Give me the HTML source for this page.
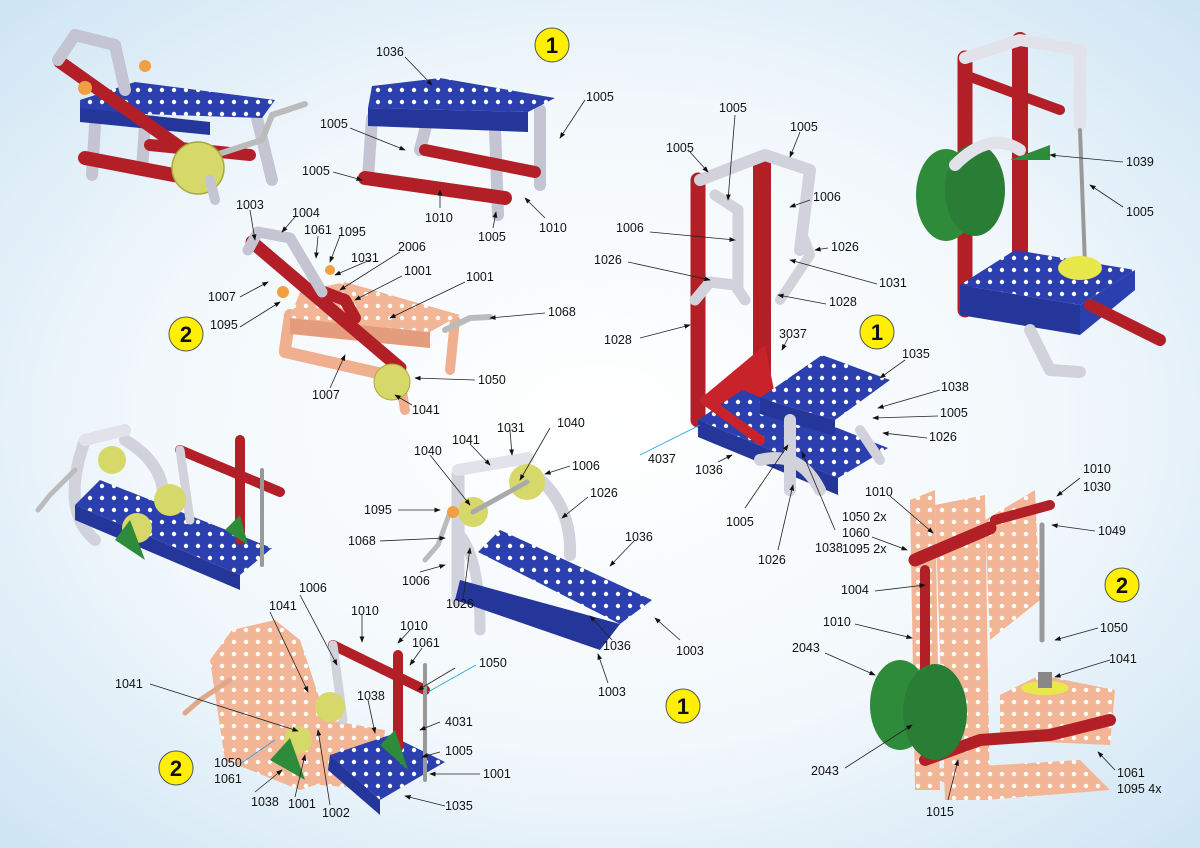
<!DOCTYPE html>
<html><head><meta charset="utf-8"><style>
html,body{margin:0;padding:0;background:#fff}
svg{display:block}
text{font-family:"Liberation Sans",sans-serif;font-size:12.5px;fill:#111}
</style></head><body>
<svg width="1200" height="848" viewBox="0 0 1200 848" xmlns="http://www.w3.org/2000/svg">
<defs>
<radialGradient id="bg" cx="0.5" cy="0.5" r="0.7">
<stop offset="0" stop-color="#ffffff"/><stop offset="0.55" stop-color="#f2f8fc"/><stop offset="1" stop-color="#cfe5f4"/>
</radialGradient>
<pattern id="hb" width="12" height="12" patternUnits="userSpaceOnUse"><rect width="12" height="12" fill="#2b3fae"/><circle cx="6" cy="6" r="2.2" fill="#fff"/></pattern>
<pattern id="hp" width="12" height="12" patternUnits="userSpaceOnUse"><rect width="12" height="12" fill="#f2b596"/><circle cx="6" cy="6" r="2.2" fill="#fff"/></pattern>
<marker id="a" markerWidth="8" markerHeight="6" refX="7" refY="3" orient="auto"><path d="M0,0 L8,3 L0,6 z" fill="#111"/></marker>
</defs>
<rect width="1200" height="848" fill="url(#bg)"/>

<g stroke-linecap="round" stroke-linejoin="round" fill="none">
<!-- Model A -->
<polyline points="92,175 95,125" stroke="#c4c4d2" stroke-width="12"/>
<polyline points="142,170 145,125" stroke="#c4c4d2" stroke-width="12"/>
<polyline points="255,110 272,180" stroke="#c4c4d2" stroke-width="12"/>
<polygon points="80,100 135,82 275,100 262,118 80,112" fill="url(#hb)"/>
<polygon points="80,108 210,122 210,135 80,122" fill="#24369a"/>
<polyline points="85,158 210,182" stroke="#b31f26" stroke-width="14"/>
<polyline points="150,145 250,155" stroke="#b31f26" stroke-width="12"/>
<polyline points="60,62 198,160" stroke="#b31f26" stroke-width="13"/>
<polyline points="58,60 75,35 115,45 125,90" stroke="#c4c4d2" stroke-width="12"/>
<polyline points="200,160 262,140 272,115 305,104" stroke="#bbbbbb" stroke-width="6"/>
<circle cx="198" cy="168" r="26" fill="#d6d86a" stroke="#a8a93e" stroke-width="1.5"/>
<circle cx="85" cy="88" r="7" fill="#f0a040"/><circle cx="145" cy="66" r="6" fill="#f0a040"/>
<polyline points="210,180 215,200" stroke="#c4c4d2" stroke-width="10"/>

<!-- Model B -->
<polyline points="368,178 372,118" stroke="#c4c4d2" stroke-width="12"/>
<polyline points="420,150 428,118" stroke="#c4c4d2" stroke-width="12"/>
<polyline points="540,110 540,185" stroke="#c4c4d2" stroke-width="12"/>
<polyline points="495,128 498,215" stroke="#c4c4d2" stroke-width="12"/>
<polygon points="372,86 440,78 555,98 528,112 368,108" fill="url(#hb)"/>
<polygon points="368,108 528,112 528,132 368,126" fill="#24369a"/>
<polyline points="365,178 505,198" stroke="#b31f26" stroke-width="14"/>
<polyline points="425,150 535,172" stroke="#b31f26" stroke-width="12"/>

<!-- Model C -->
<polyline points="285,350 290,315" stroke="#f0b090" stroke-width="12"/>
<polyline points="455,320 450,370" stroke="#f0b090" stroke-width="10"/>
<polygon points="300,292 345,282 460,315 430,332 290,318" fill="url(#hp)"/>
<polygon points="290,318 430,332 430,348 290,334" fill="#e39d7c"/>
<polyline points="285,352 400,378" stroke="#f0b090" stroke-width="12"/>
<polyline points="400,380 405,410" stroke="#f0b090" stroke-width="10"/>
<polyline points="252,242 400,368" stroke="#b31f26" stroke-width="13"/>
<polyline points="318,290 345,300 355,318" stroke="#b31f26" stroke-width="12"/>
<polyline points="248,250 258,232 290,238 322,292" stroke="#c4c4d2" stroke-width="11"/>
<polyline points="445,330 470,318 490,317" stroke="#bbbbbb" stroke-width="6"/>
<circle cx="392" cy="382" r="18" fill="#d6d86a" stroke="#a8a93e"/>
<circle cx="283" cy="292" r="6" fill="#f0a040"/><circle cx="330" cy="270" r="5" fill="#f0a040"/>

<!-- Model D -->
<polyline points="698,180 698,420" stroke="#b31f26" stroke-width="15"/>
<polyline points="762,160 762,380" stroke="#b31f26" stroke-width="18"/>
<polygon points="705,395 765,345 775,395 740,420" fill="#c8222a"/>
<polyline points="700,180 765,155 810,170 800,250" stroke="#d2d2dd" stroke-width="12"/>
<polyline points="715,195 738,210 738,290" stroke="#d2d2dd" stroke-width="11"/>
<polyline points="695,300 710,282 735,285 745,300" stroke="#d2d2dd" stroke-width="11"/>
<polyline points="780,300 810,255 805,240" stroke="#d2d2dd" stroke-width="10"/>
<polygon points="698,420 742,390 888,448 838,478" fill="url(#hb)"/>
<polygon points="698,420 838,478 838,495 698,437" fill="#24369a"/>
<polygon points="760,398 822,355 890,380 835,420" fill="url(#hb)"/>
<polygon points="760,398 835,420 835,436 760,414" fill="#24369a"/>
<polyline points="705,400 760,440" stroke="#c8222a" stroke-width="10"/>
<polyline points="790,420 790,490" stroke="#d2d2dd" stroke-width="12"/>
<path d="M760,460 Q800,450 820,490" stroke="#d2d2dd" stroke-width="12"/>
<polyline points="860,430 880,460" stroke="#d2d2dd" stroke-width="10"/>

<!-- Model E -->
<polyline points="965,58 965,310" stroke="#b31f26" stroke-width="15"/>
<polyline points="1020,40 1020,262" stroke="#b31f26" stroke-width="16"/>
<polyline points="965,58 1020,40 1080,50 1080,125" stroke="#e2e2ea" stroke-width="12"/>
<polyline points="965,75 1060,110" stroke="#b31f26" stroke-width="10"/>
<polyline points="1080,130 1085,265" stroke="#999" stroke-width="4"/>
<ellipse cx="946" cy="195" rx="30" ry="46" fill="#2e8b3a"/>
<ellipse cx="975" cy="190" rx="30" ry="46" fill="#2a7d35"/>
<path d="M955,165 Q990,130 1020,150" stroke="#e2e2ea" stroke-width="12"/>
<polygon points="960,285 1015,250 1135,270 1080,305" fill="url(#hb)"/>
<polygon points="960,285 1080,305 1080,335 960,315" fill="#24369a"/>
<polygon points="1080,305 1135,270 1135,290 1080,335" fill="#2b3fae"/>
<ellipse cx="1080" cy="268" rx="22" ry="12" fill="#e8e84a"/>
<polyline points="1090,305 1160,340" stroke="#b31f26" stroke-width="12"/>
<polyline points="1030,330 1050,370 1080,372" stroke="#d2d2dd" stroke-width="12"/>
<polygon points="1010,160 1050,145 1050,160" fill="#2e8b3a"/>

<!-- Model F -->
<path d="M85,440 Q60,510 95,540" stroke="#d2d2dd" stroke-width="12"/>
<path d="M125,440 Q175,470 160,520" stroke="#d2d2dd" stroke-width="12"/>
<polyline points="85,440 125,430" stroke="#e2e2ea" stroke-width="12"/>
<polygon points="75,505 100,480 272,548 240,575" fill="url(#hb)"/>
<polygon points="75,505 240,575 240,590 75,520" fill="#24369a"/>
<polyline points="180,450 280,492" stroke="#b31f26" stroke-width="10"/>
<polyline points="240,440 240,540" stroke="#b31f26" stroke-width="10"/>
<polyline points="180,450 190,520" stroke="#d2d2dd" stroke-width="9"/>
<polyline points="262,470 262,565" stroke="#999" stroke-width="4"/>
<circle cx="112" cy="460" r="14" fill="#d6d86a"/><circle cx="170" cy="500" r="16" fill="#d6d86a"/><circle cx="137" cy="528" r="15" fill="#d6d86a"/>
<polyline points="75,470 50,495 38,510" stroke="#bbb" stroke-width="5"/>
<polygon points="115,540 130,520 145,560" fill="#2e8b3a"/><polygon points="225,530 240,515 248,545" fill="#2e8b3a"/>

<!-- Model G -->
<polyline points="458,475 458,600" stroke="#d2d2dd" stroke-width="13"/>
<polyline points="458,470 528,458" stroke="#e2e2ea" stroke-width="12"/>
<path d="M528,470 Q572,500 570,555" stroke="#d2d2dd" stroke-width="12"/>
<path d="M460,535 Q480,560 480,630" stroke="#d2d2dd" stroke-width="11"/>
<polygon points="478,552 500,530 652,600 620,624" fill="url(#hb)"/>
<polygon points="460,580 620,624 600,650 455,600" fill="#24369a"/>
<circle cx="473" cy="512" r="15" fill="#d6d86a"/><circle cx="527" cy="482" r="18" fill="#d6d86a"/>
<polyline points="473,512 527,482" stroke="#aaa" stroke-width="5"/>
<polyline points="450,512 438,545 425,560" stroke="#bbb" stroke-width="5"/>
<circle cx="453" cy="512" r="6" fill="#f0a040"/>

<!-- Model H -->
<polygon points="210,660 232,630 275,620 300,640 320,700 330,780 300,790 225,760" fill="url(#hp)"/>
<polygon points="300,715 385,730 380,790 320,785" fill="url(#hp)"/>
<polygon points="330,755 390,735 445,762 380,800" fill="url(#hb)"/>
<polygon points="330,755 380,800 380,815 328,770" fill="#24369a"/>
<polyline points="333,645 425,690" stroke="#b31f26" stroke-width="10"/>
<polyline points="398,655 398,748" stroke="#b31f26" stroke-width="10"/>
<polyline points="333,645 343,720" stroke="#d2d2dd" stroke-width="9"/>
<polyline points="425,665 425,780" stroke="#999" stroke-width="4"/>
<circle cx="298" cy="740" r="14" fill="#d6d86a"/><circle cx="330" cy="707" r="15" fill="#d6d86a"/>
<polyline points="230,680 200,700 185,713" stroke="#e0a888" stroke-width="5"/>
<polygon points="270,760 290,738 305,780" fill="#2e8b3a"/><polygon points="380,745 395,730 408,770" fill="#2e8b3a"/>

<!-- Model I -->
<polygon points="910,500 935,490 940,790 915,790" fill="url(#hp)"/>
<polygon points="935,505 985,495 990,800 945,800" fill="url(#hp)"/>
<polygon points="985,520 1035,490 1040,600 990,640" fill="url(#hp)"/>
<polygon points="915,770 1080,760 1110,790 985,800" fill="url(#hp)"/>
<polygon points="1000,695 1040,675 1115,690 1110,745 1000,740" fill="url(#hp)"/>
<polyline points="915,560 990,528" stroke="#b31f26" stroke-width="13"/>
<polyline points="995,520 1050,505" stroke="#b31f26" stroke-width="10"/>
<polyline points="925,570 925,700" stroke="#b31f26" stroke-width="10"/>
<polyline points="925,760 980,740 1050,735 1110,720" stroke="#b31f26" stroke-width="12"/>
<polyline points="1042,525 1042,640" stroke="#999" stroke-width="5"/>
<ellipse cx="900" cy="705" rx="30" ry="45" fill="#2e8b3a"/>
<ellipse cx="935" cy="712" rx="32" ry="48" fill="#2a7d35"/>
<ellipse cx="1045" cy="688" rx="24" ry="7" fill="#e8e84a"/>
<rect x="1038" y="672" width="14" height="16" fill="#888"/>
</g>

<!-- yellow number circles -->
<g font-weight="bold">
<circle cx="552" cy="45" r="17" fill="#ffef00" stroke="#555"/><text x="552" y="53" text-anchor="middle" style="font-size:22px;font-weight:bold">1</text>
<circle cx="186" cy="334" r="17" fill="#ffef00" stroke="#555"/><text x="186" y="342" text-anchor="middle" style="font-size:22px;font-weight:bold">2</text>
<circle cx="877" cy="332" r="17" fill="#ffef00" stroke="#555"/><text x="877" y="340" text-anchor="middle" style="font-size:22px;font-weight:bold">1</text>
<circle cx="683" cy="706" r="17" fill="#ffef00" stroke="#555"/><text x="683" y="714" text-anchor="middle" style="font-size:22px;font-weight:bold">1</text>
<circle cx="176" cy="768" r="17" fill="#ffef00" stroke="#555"/><text x="176" y="776" text-anchor="middle" style="font-size:22px;font-weight:bold">2</text>
<circle cx="1122" cy="585" r="17" fill="#ffef00" stroke="#555"/><text x="1122" y="593" text-anchor="middle" style="font-size:22px;font-weight:bold">2</text>
</g>

<!-- leader lines -->
<g stroke="#222" stroke-width="0.8" fill="none" marker-end="url(#a)">
<line x1="405" y1="57" x2="432" y2="85"/><line x1="585" y1="100" x2="560" y2="138"/>
<line x1="350" y1="128" x2="405" y2="150"/><line x1="333" y1="172" x2="362" y2="180"/>
<line x1="440" y1="208" x2="440" y2="190"/><line x1="493" y1="228" x2="496" y2="212"/>
<line x1="545" y1="218" x2="525" y2="198"/>
<line x1="250" y1="210" x2="255" y2="240"/><line x1="295" y1="217" x2="282" y2="232"/>
<line x1="318" y1="236" x2="316" y2="258"/><line x1="340" y1="236" x2="330" y2="262"/>
<line x1="400" y1="252" x2="340" y2="290"/><line x1="370" y1="260" x2="335" y2="275"/>
<line x1="402" y1="276" x2="355" y2="300"/><line x1="465" y1="282" x2="390" y2="318"/>
<line x1="240" y1="297" x2="268" y2="282"/><line x1="545" y1="313" x2="490" y2="318"/>
<line x1="240" y1="327" x2="280" y2="302"/><line x1="475" y1="380" x2="415" y2="378"/>
<line x1="330" y1="388" x2="345" y2="355"/><line x1="412" y1="405" x2="395" y2="395"/>
<line x1="735" y1="115" x2="728" y2="200"/><line x1="800" y1="132" x2="790" y2="157"/>
<line x1="690" y1="152" x2="708" y2="172"/><line x1="810" y1="200" x2="790" y2="207"/>
<line x1="650" y1="232" x2="735" y2="240"/><line x1="828" y1="248" x2="815" y2="250"/>
<line x1="628" y1="262" x2="710" y2="280"/><line x1="877" y1="284" x2="790" y2="260"/>
<line x1="826" y1="304" x2="778" y2="295"/><line x1="788" y1="338" x2="782" y2="350"/>
<line x1="640" y1="338" x2="690" y2="325"/><line x1="905" y1="360" x2="880" y2="378"/>
<line x1="940" y1="390" x2="878" y2="408"/><line x1="938" y1="416" x2="873" y2="418"/>
<line x1="927" y1="438" x2="883" y2="433"/><line x1="718" y1="462" x2="732" y2="455"/>
<line x1="745" y1="508" x2="788" y2="445"/><line x1="778" y1="550" x2="793" y2="485"/>
<line x1="835" y1="530" x2="802" y2="452"/>
<line x1="1123" y1="162" x2="1050" y2="155"/><line x1="1123" y1="207" x2="1090" y2="185"/>
<line x1="1080" y1="478" x2="1057" y2="496"/><line x1="1095" y1="531" x2="1052" y2="525"/>
<line x1="890" y1="496" x2="933" y2="533"/><line x1="872" y1="537" x2="907" y2="550"/>
<line x1="875" y1="591" x2="925" y2="585"/><line x1="855" y1="624" x2="912" y2="638"/>
<line x1="1098" y1="628" x2="1055" y2="640"/><line x1="825" y1="653" x2="875" y2="675"/>
<line x1="1110" y1="660" x2="1055" y2="677"/><line x1="845" y1="768" x2="912" y2="725"/>
<line x1="948" y1="800" x2="958" y2="760"/><line x1="1115" y1="770" x2="1098" y2="752"/>
<line x1="510" y1="430" x2="512" y2="455"/><line x1="550" y1="428" x2="520" y2="480"/>
<line x1="470" y1="444" x2="490" y2="465"/><line x1="430" y1="455" x2="470" y2="505"/>
<line x1="570" y1="466" x2="545" y2="474"/><line x1="588" y1="497" x2="562" y2="518"/>
<line x1="398" y1="510" x2="440" y2="510"/><line x1="380" y1="541" x2="445" y2="538"/>
<line x1="635" y1="540" x2="610" y2="566"/><line x1="420" y1="572" x2="445" y2="565"/>
<line x1="463" y1="600" x2="470" y2="548"/><line x1="612" y1="640" x2="590" y2="616"/>
<line x1="680" y1="640" x2="655" y2="618"/><line x1="608" y1="683" x2="598" y2="654"/>
<line x1="300" y1="595" x2="337" y2="665"/><line x1="270" y1="612" x2="308" y2="692"/>
<line x1="362" y1="615" x2="362" y2="642"/><line x1="410" y1="630" x2="398" y2="643"/>
<line x1="422" y1="648" x2="410" y2="665"/><line x1="455" y1="668" x2="418" y2="690"/>
<line x1="150" y1="684" x2="298" y2="731"/><line x1="368" y1="700" x2="375" y2="733"/>
<line x1="440" y1="722" x2="420" y2="730"/><line x1="440" y1="752" x2="422" y2="757"/>
<line x1="480" y1="774" x2="430" y2="774"/><line x1="255" y1="792" x2="282" y2="770"/>
<line x1="295" y1="797" x2="305" y2="755"/><line x1="330" y1="805" x2="318" y2="730"/>
<line x1="445" y1="806" x2="405" y2="796"/>
</g>
<g stroke="#2aa0e0" stroke-width="0.8" fill="none">
<line x1="640" y1="455" x2="700" y2="425"/><line x1="240" y1="764" x2="275" y2="740"/><line x1="476" y1="665" x2="428" y2="692"/>
</g>

<!-- labels -->
<g>
<text x="376" y="56">1036</text><text x="586" y="101">1005</text><text x="320" y="128">1005</text><text x="302" y="175">1005</text>
<text x="425" y="222">1010</text><text x="478" y="241">1005</text><text x="539" y="232">1010</text>
<text x="236" y="209">1003</text><text x="292" y="217">1004</text><text x="304" y="234">1061</text><text x="338" y="236">1095</text>
<text x="398" y="251">2006</text><text x="351" y="262">1031</text><text x="404" y="275">1001</text><text x="466" y="281">1001</text>
<text x="208" y="301">1007</text><text x="548" y="316">1068</text><text x="210" y="329">1095</text><text x="478" y="384">1050</text>
<text x="312" y="399">1007</text><text x="412" y="414">1041</text>
<text x="719" y="112">1005</text><text x="790" y="131">1005</text><text x="666" y="152">1005</text><text x="813" y="201">1006</text>
<text x="616" y="232">1006</text><text x="831" y="251">1026</text><text x="594" y="264">1026</text><text x="879" y="287">1031</text>
<text x="829" y="306">1028</text><text x="779" y="338">3037</text><text x="604" y="344">1028</text><text x="902" y="358">1035</text>
<text x="941" y="391">1038</text><text x="940" y="417">1005</text><text x="929" y="441">1026</text><text x="648" y="463">4037</text>
<text x="695" y="474">1036</text><text x="726" y="526">1005</text><text x="842" y="521">1050 2x</text><text x="842" y="537">1060</text>
<text x="842" y="553">1095 2x</text><text x="815" y="552">1038</text><text x="758" y="564">1026</text>
<text x="1126" y="166">1039</text><text x="1126" y="216">1005</text>
<text x="1083" y="473">1010</text><text x="1083" y="491">1030</text><text x="865" y="496">1010</text><text x="1098" y="535">1049</text>
<text x="841" y="594">1004</text><text x="823" y="626">1010</text><text x="1100" y="632">1050</text><text x="792" y="652">2043</text>
<text x="1109" y="663">1041</text><text x="811" y="775">2043</text><text x="926" y="816">1015</text><text x="1117" y="777">1061</text>
<text x="1117" y="793">1095 4x</text>
<text x="497" y="432">1031</text><text x="557" y="427">1040</text><text x="452" y="444">1041</text><text x="414" y="455">1040</text>
<text x="572" y="470">1006</text><text x="590" y="497">1026</text><text x="364" y="514">1095</text><text x="348" y="545">1068</text>
<text x="625" y="541">1036</text><text x="402" y="585">1006</text><text x="446" y="608">1026</text><text x="603" y="650">1036</text>
<text x="676" y="655">1003</text><text x="598" y="696">1003</text>
<text x="299" y="592">1006</text><text x="269" y="610">1041</text><text x="351" y="615">1010</text><text x="400" y="630">1010</text>
<text x="412" y="647">1061</text><text x="479" y="667">1050</text><text x="115" y="688">1041</text><text x="357" y="700">1038</text>
<text x="445" y="726">4031</text><text x="445" y="755">1005</text><text x="214" y="767">1050</text><text x="214" y="783">1061</text>
<text x="483" y="778">1001</text><text x="251" y="806">1038</text><text x="288" y="808">1001</text><text x="322" y="817">1002</text>
<text x="445" y="810">1035</text>
</g>
</svg>
</body></html>
